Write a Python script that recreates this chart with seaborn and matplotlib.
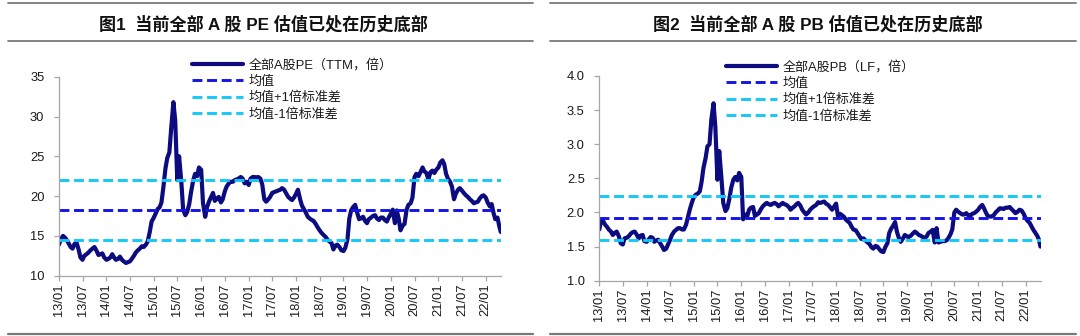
import pandas as pd
import matplotlib
matplotlib.use("Agg")
import matplotlib.pyplot as plt
import matplotlib.dates as mdates
from matplotlib.lines import Line2D
from matplotlib.ticker import MultipleLocator, FormatStrFormatter
import seaborn as sns

sns.set_theme(style="ticks")
plt.rcParams["font.family"] = ["Liberation Sans", "Noto Sans CJK SC", "DejaVu Sans"]
plt.rcParams["axes.unicode_minus"] = False

# semi-monthly observations, plus the last day in the sample
dates = list(pd.date_range("2013-01-01", "2022-04-15", freq="SMS")) + [pd.Timestamp("2022-04-26")]

# all-A-share PE (TTM)
pe_values = (
    [13.9, 14.6, 15.0, 14.8, 14.5, 14.1, 13.6, 13.4, 14.0, 14.2, 13.3, 12.3,
     12.0, 12.5, 12.7, 12.9, 13.2, 13.4, 13.6, 13.2, 12.6, 12.7, 12.8, 12.3]   # 2013
    + [12.0, 12.1, 12.3, 12.7, 12.3, 12.0, 12.1, 12.4, 12.0, 11.8, 11.6, 11.7,
       11.8, 12.1, 12.5, 12.9, 13.2, 13.4, 13.7, 13.6, 13.9, 14.3, 15.5, 16.8]  # 2014
    + [17.3, 17.8, 18.4, 18.6, 19.2, 21.0, 23.5, 24.8, 25.5, 28.5, 31.8, 29.5,
       22.0, 25.0, 21.8, 18.3, 17.6, 18.0, 19.0, 20.5, 22.0, 22.8, 22.5, 23.6]  # 2015
    + [23.3, 19.1, 17.4, 18.6, 19.3, 19.8, 20.4, 19.4, 19.7, 19.9, 19.2, 19.6,
       20.6, 21.2, 21.6, 21.8, 21.8, 22.0, 22.1, 22.2, 22.4, 22.2, 21.6, 21.8]  # 2016
    + [21.4, 22.2, 22.4, 22.4, 22.3, 22.4, 22.2, 21.5, 19.6, 19.3, 19.6, 19.9,
       20.4, 20.5, 20.6, 20.7, 20.8, 21.0, 20.8, 20.4, 19.9, 19.7, 19.5, 19.8]  # 2017
    + [20.3, 20.8, 19.6, 18.8, 18.4, 18.0, 17.4, 17.2, 17.0, 16.9, 16.5, 16.1,
       15.7, 15.4, 15.1, 14.9, 14.5, 14.3, 14.1, 13.3, 13.8, 13.9, 13.6, 13.2]  # 2018
    + [13.1, 13.5, 14.6, 17.2, 18.2, 18.6, 18.9, 18.0, 17.1, 17.2, 17.4, 16.9,
       16.6, 17.1, 17.3, 17.5, 17.6, 17.2, 17.0, 17.3, 17.3, 17.0, 16.8, 17.3]  # 2019
    + [17.8, 18.3, 16.6, 18.2, 17.2, 15.7, 16.3, 16.5, 18.3, 18.9, 19.1, 19.8,
       22.4, 22.8, 22.5, 23.0, 23.6, 23.1, 22.9, 22.1, 23.0, 23.2, 22.9, 23.3]  # 2020
    + [23.6, 24.2, 24.5, 24.0, 22.8, 22.2, 21.8, 21.2, 19.6, 20.3, 20.8, 21.0,
       20.7, 20.4, 20.1, 19.9, 19.6, 19.4, 19.1, 19.2, 19.3, 19.7, 20.0, 20.1]  # 2021
    + [19.8, 19.2, 18.7, 19.0, 17.9, 17.1, 17.3, 16.2, 15.5]                    # 2022
)

# all-A-share PB (LF)
pb_values = (
    [1.75, 1.88, 1.87, 1.82, 1.79, 1.75, 1.72, 1.67, 1.70, 1.72, 1.65, 1.55,
     1.53, 1.62, 1.63, 1.65, 1.69, 1.71, 1.72, 1.68, 1.62, 1.66, 1.67, 1.58]   # 2013
    + [1.57, 1.60, 1.64, 1.63, 1.57, 1.59, 1.60, 1.55, 1.50, 1.45, 1.47, 1.53,
       1.60, 1.67, 1.72, 1.745, 1.77, 1.77, 1.75, 1.75, 1.82, 1.93, 2.05, 2.14]  # 2014
    + [2.23, 2.26, 2.28, 2.31, 2.45, 2.65, 2.80, 2.97, 3.00, 3.36, 3.60, 3.25,
       2.48, 2.90, 2.50, 2.14, 2.02, 2.06, 2.20, 2.36, 2.48, 2.52, 2.47, 2.58]  # 2015
    + [2.52, 1.90, 1.97, 1.94, 2.04, 2.07, 2.08, 1.95, 1.97, 1.99, 2.05, 2.09,
       2.12, 2.14, 2.12, 2.11, 2.13, 2.14, 2.12, 2.09, 2.12, 2.14, 2.12, 2.11]  # 2016
    + [2.08, 2.04, 2.07, 2.09, 2.12, 2.14, 2.10, 2.04, 2.00, 1.97, 2.00, 2.04,
       2.07, 2.09, 2.11, 2.15, 2.14, 2.15, 2.16, 2.13, 2.11, 2.08, 2.04, 2.08]  # 2017
    + [2.13, 1.95, 1.98, 1.96, 1.94, 1.90, 1.87, 1.85, 1.79, 1.75, 1.74, 1.70,
       1.65, 1.61, 1.62, 1.59, 1.56, 1.54, 1.49, 1.47, 1.51, 1.50, 1.46, 1.43]  # 2018
    + [1.42, 1.49, 1.55, 1.70, 1.76, 1.80, 1.86, 1.72, 1.62, 1.57, 1.62, 1.67,
       1.65, 1.64, 1.66, 1.69, 1.72, 1.70, 1.67, 1.66, 1.64, 1.62, 1.65, 1.70]  # 2019
    + [1.72, 1.745, 1.56, 1.77, 1.56, 1.57, 1.58, 1.58, 1.59, 1.62, 1.68, 1.75,
       2.00, 2.04, 2.01, 1.99, 1.97, 1.97, 1.99, 1.96, 1.95, 1.98, 1.99, 2.01]  # 2020
    + [2.04, 2.08, 2.11, 2.06, 2.00, 1.95, 1.94, 1.94, 1.96, 2.00, 2.03, 2.06,
       2.06, 2.05, 2.07, 2.07, 2.08, 2.05, 2.02, 1.99, 2.01, 2.04, 2.03, 1.99]  # 2021
    + [1.92, 1.88, 1.85, 1.80, 1.75, 1.71, 1.66, 1.60, 1.50]                    # 2022
)

pe_mean, pe_std = 18.25, 3.77
pb_mean, pb_std = 1.915, 0.325

titles = ["图1  当前全部 A 股 PE 估值已处在历史底部",
          "图2  当前全部 A 股 PB 估值已处在历史底部"]
series_labels = ["全部A股PE（TTM，倍）", "全部A股PB（LF，倍）"]
band_labels = ["均值", "均值+1倍标准差", "均值-1倍标准差"]

NAVY = "#0c0c80"
BLUE = "#1414e6"
CYAN = "#14c8f8"
DASH = (0, (3.4, 1.6))

fig = plt.figure(figsize=(10.8, 3.36), dpi=100)
W, H = 1080.0, 336.0


def fx(px):
    return px / W


def fy(py):
    return 1 - py / H


def draw_panel(rect, values, mean, std, series_label, ylim, ystep, yfmt,
               title, title_x, rule_x, legend_xy):
    ax = fig.add_axes(rect)
    df = pd.DataFrame({"date": dates, "value": values})
    sns.lineplot(data=df, x="date", y="value", ax=ax, color=NAVY, lw=3.0,
                 label=series_label, legend=False)
    ax.axhline(mean, color=BLUE, lw=2.1, ls=DASH, label=band_labels[0])
    ax.axhline(mean + std, color=CYAN, lw=2.1, ls=DASH, label=band_labels[1])
    ax.axhline(mean - std, color=CYAN, lw=2.1, ls=DASH, label=band_labels[2])

    ax.set_xlim(pd.Timestamp("2013-01-01"), pd.Timestamp("2022-04-28"))
    ax.set_ylim(*ylim)
    ax.yaxis.set_major_locator(MultipleLocator(ystep))
    ax.yaxis.set_major_formatter(FormatStrFormatter(yfmt))
    ax.xaxis.set_major_locator(mdates.MonthLocator(bymonth=[1, 7]))
    ax.xaxis.set_major_formatter(mdates.DateFormatter("%y/%m"))
    ax.set_xlabel("")
    ax.set_ylabel("")

    for side in ("top", "right"):
        ax.spines[side].set_visible(False)
    for side in ("left", "bottom"):
        ax.spines[side].set_color("#a6a6a6")
        ax.spines[side].set_linewidth(0.9)
    ax.tick_params(axis="both", direction="out", length=3.5, width=0.9,
                   color="#a6a6a6", labelsize=9.3, labelcolor="#1a1a1a")
    ax.tick_params(axis="y", pad=7)
    ax.tick_params(axis="x", pad=2, labelrotation=90)

    handles, labels = ax.get_legend_handles_labels()
    fig.legend(handles, labels, loc="upper left",
               bbox_to_anchor=(fx(legend_xy[0]), fy(legend_xy[1])),
               bbox_transform=fig.transFigure, frameon=False,
               fontsize=9.4, handlelength=3.9, handletextpad=0.45,
               labelspacing=0.3, borderpad=0, borderaxespad=0,
               labelcolor="#1a1a1a")

    fig.text(fx(title_x), fy(24), title, ha="center", va="center",
             fontsize=12.3, fontweight="bold", color="#111111")
    for py, lw in ((3, 1.3), (40.5, 1.3), (333.5, 1.6)):
        fig.add_artist(Line2D([fx(rule_x[0]), fx(rule_x[1])], [fy(py), fy(py)],
                              color="#7a7a7a", lw=lw, transform=fig.transFigure))
    return ax


draw_panel([fx(59), fy(275.7), fx(442), 199 / H], pe_values, pe_mean, pe_std,
           series_labels[0], (10, 35), 5, "%d", titles[0], 263, (8, 533), (192, 59))
draw_panel([fx(599.3), fy(280.7), fx(441.4), 204.7 / H], pb_values, pb_mean, pb_std,
           series_labels[1], (1.0, 4.0), 0.5, "%.1f", titles[1], 818, (550, 1076), (726, 61))

fig.savefig("out.png", dpi=100)
